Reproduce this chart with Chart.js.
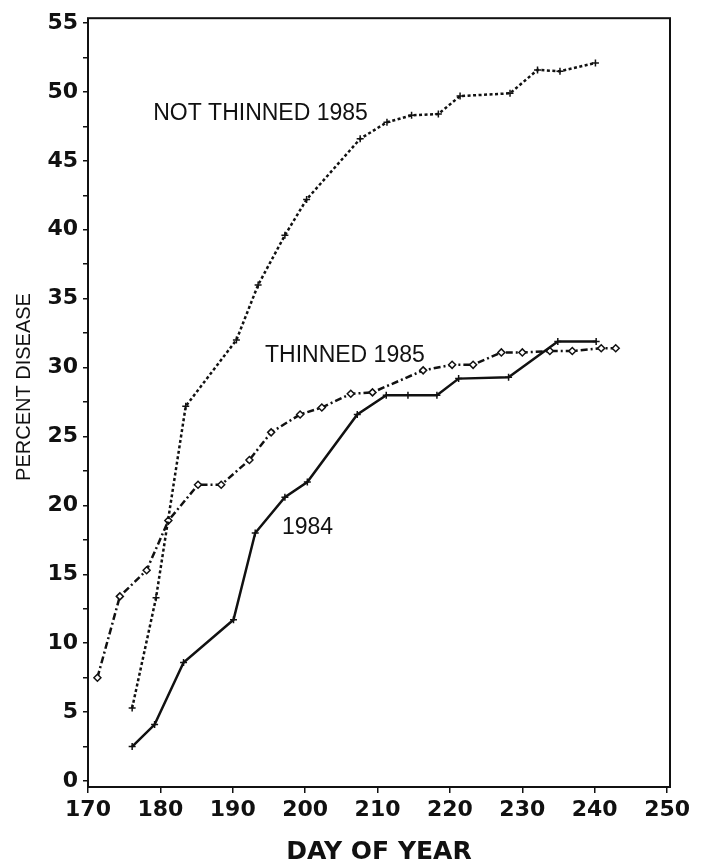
<!DOCTYPE html>
<html>
<head>
<meta charset="utf-8">
<title>Percent disease by day of year</title>
<script src="https://cdn.jsdelivr.net/npm/chart.js@4.4.1/dist/chart.umd.min.js"></script>
<style>
  html, body { margin: 0; padding: 0; background: #fff; }
  #wrap { width: 701px; height: 865px; position: relative; }
</style>
</head>
<body>
<div id="wrap"><canvas id="disease-chart"></canvas></div>
<script>
// Data (day of year, percent disease)

const days1984 = [176.1, 179.2, 183.2, 190.1, 193.1, 197.2, 200.3, 207.2, 211.2, 214.2, 218.2, 221.2, 228.1, 234.9, 240.2];
const pct1984 = [2.5, 4.1, 8.6, 11.7, 18.0, 20.6, 21.7, 26.6, 28.0, 28.0, 28.0, 29.2, 29.3, 31.9, 31.9];

const daysNotThinned = [176.1, 179.4, 183.5, 190.5, 193.5, 197.2, 200.2, 207.6, 211.3, 214.7, 218.4, 221.4, 228.3, 232.1, 235.2, 240.1];
const pctNotThinned = [5.3, 13.3, 27.2, 32.0, 36.0, 39.6, 42.2, 46.6, 47.8, 48.3, 48.4, 49.7, 49.9, 51.6, 51.5, 52.1];

const daysThinned = [171.3, 174.4, 178.1, 181.1, 185.2, 188.4, 192.3, 195.3, 199.3, 202.3, 206.3, 209.3, 216.3, 220.3, 223.2, 227.1, 230.0, 233.8, 236.9, 240.9, 242.9];
const pctThinned = [7.5, 13.4, 15.3, 18.9, 21.5, 21.5, 23.3, 25.3, 26.6, 27.1, 28.1, 28.2, 29.8, 30.2, 30.2, 31.1, 31.1, 31.2, 31.2, 31.4, 31.4];

const xTicks = [170, 180, 190, 200, 210, 220, 230, 240, 250];
const yTicks = [0, 2.5, 5, 7.5, 10, 12.5, 15, 17.5, 20, 22.5, 25, 27.5, 30, 32.5, 35, 37.5, 40, 42.5, 45, 47.5, 50, 52.5, 55];

// curve labels written inside the plot (day, percent)
const curveNotes = [
  { text: "NOT THINNED 1985", x: 179.0, y: 48.0 },
  { text: "THINNED 1985", x: 194.45, y: 30.4 },
  { text: "1984", x: 196.8, y: 17.9 },
];

const toPoints = (xs, ys) => xs.map((x, i) => ({ x: x, y: ys[i] }));

// box round the plot, curve labels and the y title
const framePlugin = {
  id: "frame",
  afterDraw(chart) {
    const { ctx, chartArea, scales } = chart;
    ctx.save();
    ctx.strokeStyle = "#111";
    ctx.lineWidth = 2;
    ctx.strokeRect(chartArea.left, chartArea.top, chartArea.right - chartArea.left, chartArea.bottom - chartArea.top);

    ctx.fillStyle = "#111";
    ctx.font = "23px 'Liberation Sans', Arial, sans-serif";
    ctx.textAlign = "left";
    ctx.textBaseline = "alphabetic";
    curveNotes.forEach((n) => {
      ctx.fillText(n.text, scales.x.getPixelForValue(n.x), scales.y.getPixelForValue(n.y));
    });

    // y axis title sits a bit above the middle in the original
    ctx.translate(24, 387);
    ctx.rotate(-Math.PI / 2);
    ctx.font = "20px 'Liberation Sans', Arial, sans-serif";
    ctx.textAlign = "center";
    ctx.textBaseline = "middle";
    ctx.fillText("PERCENT DISEASE", 0, 0);
    ctx.restore();
  },
};

const tickFont = { family: "'DejaVu Sans', sans-serif", size: 22, weight: "bold" };

new Chart(document.getElementById("disease-chart").getContext("2d"), {
  type: "line",
  data: {
    datasets: [
      {
        label: "1984",
        data: toPoints(days1984, pct1984),
        borderColor: "#111",
        borderWidth: 2.5,
        pointStyle: "cross",
        pointRadius: 3.5,
        pointBorderWidth: 1.5,
        pointBorderColor: "#111",
      },
      {
        label: "NOT THINNED 1985",
        data: toPoints(daysNotThinned, pctNotThinned),
        borderColor: "#111",
        borderWidth: 2.5,
        borderDash: [3, 2.5],
        pointStyle: "cross",
        pointRadius: 3.5,
        pointBorderWidth: 1.5,
        pointBorderColor: "#111",
      },
      {
        label: "THINNED 1985",
        data: toPoints(daysThinned, pctThinned),
        borderColor: "#111",
        borderWidth: 2.5,
        borderDash: [7, 3, 2, 3],
        pointStyle: "rectRot",
        pointRadius: 3.5,
        pointBorderWidth: 1.5,
        pointBorderColor: "#111",
        pointBackgroundColor: "#fff",
      },
    ],
  },
  options: {
    responsive: true,
    maintainAspectRatio: false,
    animation: false,
    layout: {
      padding: { left: 0, top: 15, right: 31, bottom: 0 },
    },
    elements: {
      line: { tension: 0, fill: false },
    },
    plugins: {
      legend: { display: false },
      tooltip: { enabled: false },
    },
    scales: {
      x: {
        type: "linear",
        min: 170,
        max: 250.4,
        afterBuildTicks: (axis) => {
          axis.ticks = xTicks.map((v) => ({ value: v }));
        },
        afterFit: (axis) => {
          axis.height = 78;
        },
        border: { display: false },
        grid: {
          drawOnChartArea: false,
          drawTicks: true,
          tickLength: 6,
          color: "#111",
          lineWidth: 1.5,
        },
        ticks: {
          color: "#111",
          font: tickFont,
          padding: 4,
          maxRotation: 0,
          autoSkip: false,
        },
        title: {
          display: true,
          text: "DAY OF YEAR",
          color: "#111",
          font: { family: "'DejaVu Sans', sans-serif", size: 25, weight: "bold", lineHeight: 1 },
          padding: { top: 0, bottom: 0 },
        },
      },
      y: {
        type: "linear",
        min: -0.43,
        max: 55.35,
        afterBuildTicks: (axis) => {
          axis.ticks = yTicks.map((v) => ({ value: v }));
        },
        afterFit: (axis) => {
          axis.width = 88;
        },
        border: { display: false },
        grid: {
          drawOnChartArea: false,
          drawTicks: true,
          tickLength: 5,
          color: "#111",
          lineWidth: 1.5,
        },
        ticks: {
          color: "#111",
          font: tickFont,
          padding: 5,
          autoSkip: false,
          callback: (v) => (v % 5 === 0 ? String(v) : ""),
        },
      },
    },
  },
  plugins: [framePlugin],
});
</script>
</body>
</html>
